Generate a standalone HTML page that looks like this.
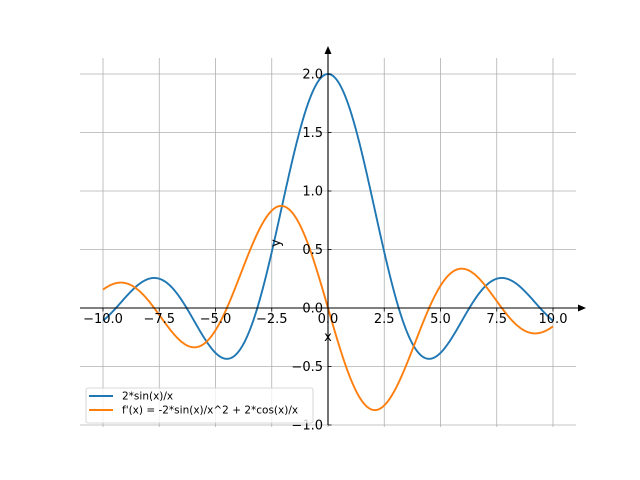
<!DOCTYPE html>
<html><head><meta charset="utf-8"><style>
html,body{margin:0;padding:0;background:#fff}
svg{display:block;font-family:"DejaVu Sans","Liberation Sans",sans-serif}
</style></head><body>
<svg id="s" width="640" height="480" viewBox="0 0 640 480" xmlns="http://www.w3.org/2000/svg">
<g id="grid" stroke="#b0b0b0" stroke-width="0.8"></g>
<path id="p1" fill="none" stroke="#1f77b4" stroke-width="1.9"/>
<path id="p2" fill="none" stroke="#ff7f0e" stroke-width="1.9"/>
<g stroke="#000" stroke-width="1.1">
<line x1="80" y1="308" x2="580" y2="308"/>
<line x1="328" y1="425" x2="328" y2="52"/>
</g>
<polygon points="586,308 578,304.5 578,311.5" fill="#000"/>
<polygon points="328,46 324.5,54 331.5,54" fill="#000"/>
<g id="ticks" stroke="#000" stroke-width="0.8"></g>
<g id="lab" font-size="13" fill="#000"></g>
<text x="328" y="341" font-size="13" text-anchor="middle">x</text>
<text x="0" y="0" font-size="13" text-anchor="middle" transform="translate(280,243) rotate(-90)">y</text>
<rect x="86" y="388" width="227" height="35" fill="#fff" fill-opacity="0.8" stroke="#ccc" stroke-width="0.8" rx="2"/>
<line x1="89" y1="396" x2="113" y2="396" stroke="#1f77b4" stroke-width="1.9"/>
<line x1="89" y1="410" x2="113" y2="410" stroke="#ff7f0e" stroke-width="1.9"/>
<text x="122" y="399.5" font-size="10.5">2*sin(x)/x</text>
<text x="122" y="413.5" font-size="10.5">f'(x) = -2*sin(x)/x^2 + 2*cos(x)/x</text>
</svg>
<script>
var X=function(x){return 328+22.5*x},Y=function(y){return 308-117*y};
var ns="http://www.w3.org/2000/svg";
function el(p,t,a,txt){var e=document.createElementNS(ns,t);for(var k in a)e.setAttribute(k,a[k]);if(txt)e.textContent=txt;document.getElementById(p).appendChild(e);}
for(var i=-4;i<=4;i++){var x=X(i*2.5);el("grid","line",{x1:x,y1:58,x2:x,y2:427});
 el("ticks","line",{x1:x,y1:308,x2:x,y2:311.5});
 var s=(i*2.5).toFixed(1).replace("-","\u2212");el("lab","text",{x:x,y:323,"text-anchor":"middle"},s);}
for(var j=-2;j<=4;j++){var v=j*0.5,y=Y(v);el("grid","line",{x1:80,y1:y,x2:576,y2:y});
 el("ticks","line",{x1:328,y1:y,x2:331.5,y2:y});
 el("lab","text",{x:323,y:y+4.5,"text-anchor":"end"},v.toFixed(1).replace("-","\u2212"));}
var d1="",d2="";
for(var k=0;k<=1000;k++){var x=-10+20*k/1000;if(Math.abs(x)<1e-9)x=1e-9;
 var f=2*Math.sin(x)/x,g=-2*Math.sin(x)/(x*x)+2*Math.cos(x)/x;
 d1+=(k?"L":"M")+X(x).toFixed(2)+","+Y(f).toFixed(2);
 d2+=(k?"L":"M")+X(x).toFixed(2)+","+Y(g).toFixed(2);}
document.getElementById("p1").setAttribute("d",d1);
document.getElementById("p2").setAttribute("d",d2);
</script>
</body></html>
